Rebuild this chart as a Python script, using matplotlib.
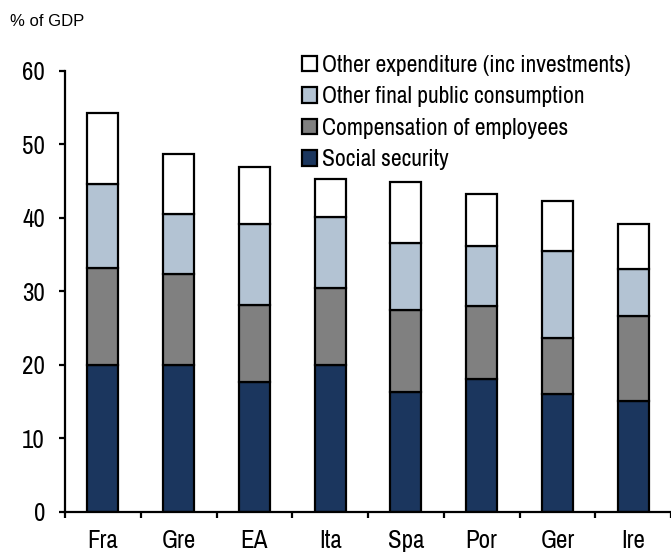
import matplotlib as mpl
mpl.use('Agg')
import matplotlib.pyplot as plt
import numpy as np

plt.rcParams['font.family'] = ['Archivo Narrow', 'Liberation Sans', 'DejaVu Sans']

countries = ['Fra', 'Gre', 'EA', 'Ita', 'Spa', 'Por', 'Ger', 'Ire']
social_security = [20.0, 20.0, 17.7, 20.0, 16.3, 18.1, 16.1, 15.1]
compensation = [13.2, 12.3, 10.4, 10.5, 11.2, 9.9, 7.6, 11.5]
other_consumption = [11.4, 8.2, 11.1, 9.6, 9.1, 8.2, 11.8, 6.5]
other_expenditure = [9.6, 8.2, 7.7, 5.2, 8.3, 7.0, 6.8, 6.0]

series = [
    ('Social security', social_security, '#1b365e'),
    ('Compensation of employees', compensation, '#808080'),
    ('Other final public consumption', other_consumption, '#b3c3d3'),
    ('Other expenditure (inc investments)', other_expenditure, '#ffffff'),
]

fig = plt.figure(figsize=(6.71, 5.55), dpi=100)
ax = fig.add_axes([0.097, 0.0775, 0.903, 0.795])

x = np.arange(len(countries))
bottom = np.zeros(len(countries))
handles = []
for name, vals, col in series:
    b = ax.bar(x, vals, width=0.41, bottom=bottom, color=col,
               edgecolor='black', linewidth=1.6, label=name, zorder=2)
    handles.append(b)
    bottom += np.array(vals)

ax.set_ylim(0, 60)
ax.set_xlim(-0.5, len(countries) - 0.5)
ax.set_yticks(range(0, 61, 10))
ax.set_xticks(x)
ax.set_xticklabels(countries)
ax.set_xticks(np.arange(-0.5, len(countries)), minor=True)
ax.tick_params(axis='x', which='major', length=0, pad=12, labelsize=18)
ax.tick_params(axis='x', which='minor', length=4.5, width=1.6, direction='out')
ax.tick_params(axis='y', length=4.5, width=1.6, labelsize=18, pad=10)

for s in ['top', 'right']:
    ax.spines[s].set_visible(False)
for s in ['left', 'bottom']:
    ax.spines[s].set_linewidth(1.6)

fig.text(0.015, 0.962, '% of GDP', fontsize=12, family=['Liberation Sans', 'DejaVu Sans'],
         va='center', ha='left')

leg = fig.legend(handles[::-1], [s[0] for s in series][::-1],
                 loc='upper left', bbox_to_anchor=(0.432, 0.923), frameon=False,
                 fontsize=17, handlelength=0.63, handleheight=0.63,
                 handletextpad=0.25, labelspacing=0.45, borderpad=0)

fig.savefig('out.png', dpi=100)
